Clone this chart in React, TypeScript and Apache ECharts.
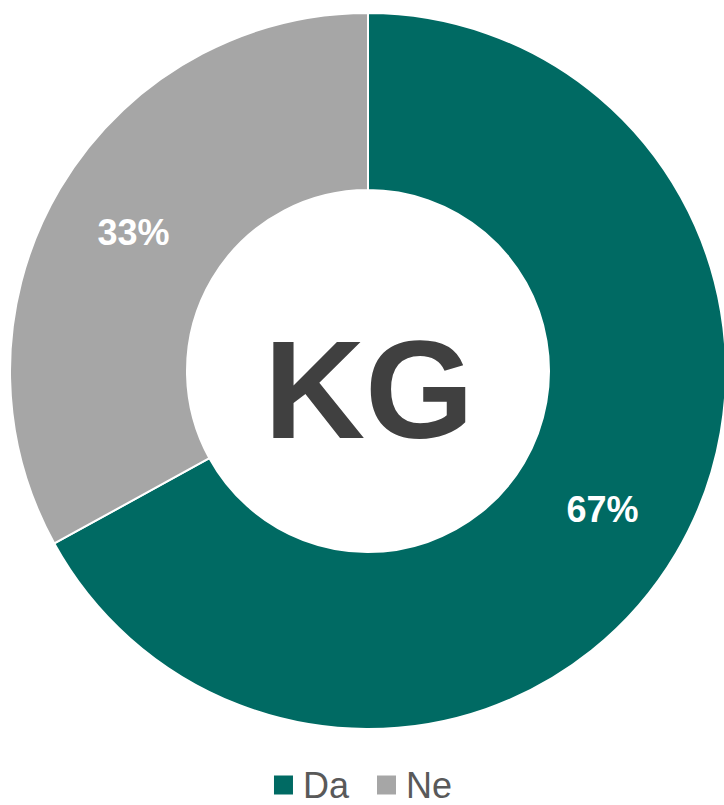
import React, { useEffect, useRef } from "react";
import * as echarts from "echarts";

const categories = ["Da", "Ne"];
const values = [67, 33];
const colors = ["#006A63", "#A6A6A6"];
const centerLabel = "KG";

export default function App() {
  const ref = useRef<HTMLDivElement>(null);
  useEffect(() => {
    if (!ref.current) return;
    const chart = echarts.init(ref.current, null, { renderer: "svg" });
    chart.setOption({
      animation: false,
      color: colors,
      legend: {
        data: categories,
        bottom: 2,
        left: "center",
        icon: "rect",
        itemWidth: 21,
        itemHeight: 21,
        itemGap: 26,
        padding: 0,
        textStyle: {
          fontFamily: "Liberation Sans, Arial, sans-serif",
          fontSize: 36,
          lineHeight: 26,
          color: "#595959",
          padding: [0, 0, 0, 4],
        },
      },
      graphic: [
        {
          type: "text",
          x: 369,
          y: 389,
          style: {
            text: centerLabel,
            fontFamily: "Liberation Sans, Arial, sans-serif",
            fontWeight: "bold",
            fontSize: 140,
            fill: "#404040",
            textAlign: "center",
            textVerticalAlign: "middle",
          },
        },
      ],
      series: [
        {
          type: "pie",
          center: [368, 371],
          radius: [181, 358],
          startAngle: 90,
          clockwise: true,
          avoidLabelOverlap: false,
          itemStyle: { borderColor: "#ffffff", borderWidth: 2 },
          label: {
            show: true,
            position: "inside",
            formatter: (p: any) => Math.round(p.percent) + "%",
            fontFamily: "Liberation Sans, Arial, sans-serif",
            fontWeight: "bold",
            fontSize: 36,
            color: "#ffffff",
          },
          labelLine: { show: false },
          emphasis: { disabled: true },
          data: categories.map((c, i) => ({ name: c, value: values[i] })),
        },
      ],
    });
    return () => chart.dispose();
  }, []);
  return (
    <div
      ref={ref}
      style={{ position: "absolute", left: 0, top: 0, width: 724, height: 805 }}
    />
  );
}
